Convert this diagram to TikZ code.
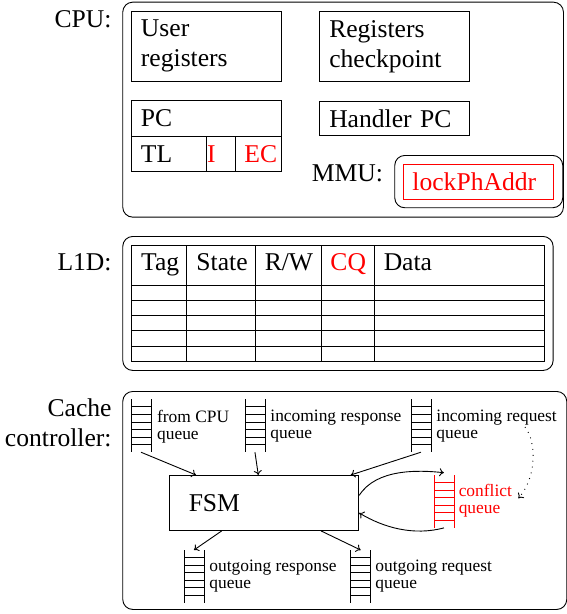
\documentclass[tikz,border=0pt]{standalone}
\usepackage{fontspec}
\setmainfont{Liberation Serif}
\usetikzlibrary{calc,arrows.meta}
\newcommand\fbig{\fontsize{25.6}{30}\selectfont}
\newcommand\fsmall{\fontsize{17.4}{16.6}\selectfont}
\tikzset{
  outer/.style={draw, rounded corners=10pt, inner sep=0pt, anchor=north west},
  cell/.style={draw, inner sep=0pt, inner xsep=9.5pt, anchor=north west, align=left},
  lbl/.style={inner sep=0pt},
  qtext/.style={font=\fsmall, align=left, anchor=north west, inner sep=0pt},
  arr/.style={-{To[length=4.5pt,width=8pt]}, line width=0.9pt},
  qbox/.style={anchor=north west, minimum width=19pt, minimum height=52pt, inner sep=0pt}
}
\newcommand\qicon[4]{%
  \node[qbox] (#1) at (#2,#3) {};
  \draw[#4, line width=0.8pt] (#1.north west) -- (#1.south west) (#1.north east) -- (#1.south east);
  \foreach \k in {1,...,6} \draw[#4, line width=0.8pt] ($(#1.north west)!\k/7!(#1.south west)$) -- ($(#1.north east)!\k/7!(#1.south east)$);
}
\begin{document}
\begin{tikzpicture}[x=1pt, y=-1pt, line width=0.9pt, font=\fbig]
\useasboundingbox (0,0) rectangle (567,614);

% ---------- CPU ----------
\node[lbl, anchor=base east] (cpulbl) at (112,27) {CPU:};
\node[outer, minimum width=440.7pt, minimum height=215pt] (cpubox) at (122.3,1.7) {};
\node[cell, text width=131pt, minimum height=69.7pt] (userreg) at (131,11) {User\\registers};
\node[cell, text width=130.7pt, minimum height=69.7pt] (chkpt) at (319.3,11) {Registers\\checkpoint};
\node[cell, text width=131pt, minimum height=35.7pt] (pc) at (131,100) {PC};
\node[cell, text width=55.7pt, minimum height=35.3pt] (tl) at (131,135.7) {TL};
\node[cell, inner xsep=1pt, text width=27.6pt, minimum height=35.3pt, text=red] (ibit) at (205.7,135.7) {I};
\node[cell, inner xsep=4.3pt, text width=37.1pt, align=right, minimum height=35.3pt, text=red] (ec) at (235.3,135.7) {EC};
\node[cell, text width=130.7pt, minimum height=34.6pt] (hpc) at (319.3,100.7) {Handler PC};
\node[lbl, anchor=base east] (mmulbl) at (383.5,181.7) {MMU:};
\node[outer, minimum width=168pt, minimum height=52.3pt] (mmubox) at (394.3,155) {};
\node[cell, draw=red, text=red, inner xsep=8.7pt, text width=132.6pt, minimum height=34.7pt] (lock) at (403.3,164) {lockPhAddr};

% ---------- L1D ----------
\node[lbl, anchor=base east] (l1dlbl) at (112,270.5) {L1D:};
\node[outer, minimum width=430.4pt, minimum height=134pt] (l1dbox) at (122.3,236) {};
\node[draw, inner sep=0pt, anchor=north west, minimum width=412.7pt, minimum height=115.7pt] (tbl) at (131,245.3) {};
\foreach \yy in {285,300,315.7,330.7,346}
  \draw ($(tbl.north west)+(0,\yy-245.3)$) -- ($(tbl.north east)+(0,\yy-245.3)$);
\foreach \xx in {186.7,255.3,321,374.3}
  \draw ($(tbl.north west)+(\xx-131,0)$) -- ($(tbl.south west)+(\xx-131,0)$);
\node[lbl, anchor=base west] (htag) at (140.7,270) {Tag};
\node[lbl, anchor=base west] (hstate) at (196,270) {State};
\node[lbl, anchor=base west] (hrw) at (264.3,270) {R/W};
\node[lbl, anchor=base west, text=red] (hcq) at (330,270) {CQ};
\node[lbl, anchor=base west] (hdata) at (383.3,270) {Data};

% ---------- Cache controller ----------
\node[lbl, anchor=north east, align=right] (cclbl) at (112,398.5) {Cache\\controller:};
\node[outer, minimum width=444pt, minimum height=218pt] (ccbox) at (122.3,391) {};

\qicon{cpuq}{131}{399.3}{black}
\qicon{inrespq}{245}{399.3}{black}
\qicon{inreqq}{411}{399.3}{black}
\qicon{confq}{434}{475}{red}
\qicon{outrespq}{184}{550}{black}
\qicon{outreqq}{350.7}{550}{black}

\node[qtext] (cpuqt) at (156.7,409.8) {from CPU\\queue};
\node[qtext] (inrespqt) at (270,409.8) {incoming response\\queue};
\node[qtext] (inreqqt) at (436,409.8) {incoming request\\queue};
\node[qtext, text=red] (confqt) at (458.3,484.1) {conflict\\queue};
\node[qtext] (outrespqt) at (209,559.8) {outgoing response\\queue};
\node[qtext] (outreqqt) at (375,559.8) {outgoing request\\queue};

\node[cell, inner xsep=19pt, text width=151pt, minimum height=55pt] (fsm) at (169.3,475) {FSM};

\draw[arr] (cpuq.south) -- ($(fsm.north west)+(26.7,0)$);
\draw[arr] (inrespq.south) -- ($(fsm.north west)+(89,0)$);
\draw[arr] (inreqq.south) -- ($(fsm.north west)+(181.4,0)$);
\draw[arr] ($(fsm.east)+(0,-7.5)$) .. controls +(17,-27) and +(-25,-2.7) .. ($(confq.north)+(0,-2.3)$);
\draw[arr] (confq.south) .. controls +(-30,8) and +(25,15) .. ($(fsm.east)+(0,10)$);
\coordinate (dotstart) at (525,427);
\coordinate (dotend) at (518.3,498.3);
\draw[arr, dash pattern=on 0.9pt off 5pt] (dotstart) .. controls +(12,15) and +(18,-20) .. (dotend);
\draw[arr] ($(fsm.south west)+(52.4,0)$) -- (outrespq.north);
\draw[arr] ($(fsm.south west)+(151.7,0)$) -- (outreqq.north);
\end{tikzpicture}
\end{document}
